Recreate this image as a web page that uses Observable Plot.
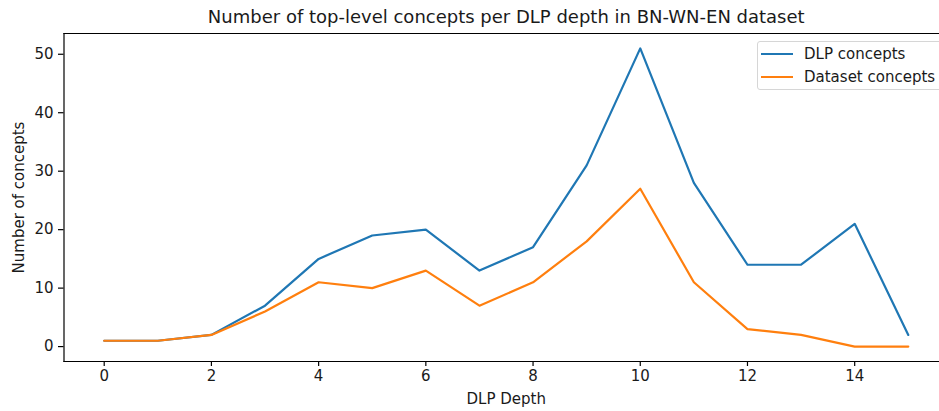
<!DOCTYPE html>
<html>
<head>
<meta charset="utf-8">
<script src="https://cdn.jsdelivr.net/npm/d3@7"></script>
<script src="https://cdn.jsdelivr.net/npm/@observablehq/plot@0.6"></script>
<style>
  html, body { margin: 0; padding: 0; background: #fff; }
  #wrap { position: relative; width: 939px; height: 411px; overflow: hidden; font-family: "DejaVu Sans", sans-serif; }
  #legend { position: absolute; left: 757px; top: 41px; width: 186px; height: 49px; box-sizing: border-box;
    border: 1px solid #d6d6d6; border-radius: 3px; background: rgba(255,255,255,0.8); font-size: 15px; color: #1a1a1a; }
  .item { position: absolute; left: 3px; height: 18px; line-height: 18px; white-space: nowrap; }
  .item span.sw { position: absolute; left: 0; top: 8px; width: 32px; height: 2px; }
  .item span.lb { position: absolute; left: 43px; top: 0; }
</style>
</head>
<body>
<div id="wrap"></div>
<script>
const depths = [0, 1, 2, 3, 4, 5, 6, 7, 8, 9, 10, 11, 12, 13, 14, 15];
const dlpConcepts = [1, 1, 2, 7, 15, 19, 20, 13, 17, 31, 51, 28, 14, 14, 21, 2];
const datasetConcepts = [1, 1, 2, 6, 11, 10, 13, 7, 11, 18, 27, 11, 3, 2, 0, 0];
const seriesNames = ["DLP concepts", "Dataset concepts"];
const seriesColors = ["#1f77b4", "#ff7f0e"];
const xTicks = [0, 2, 4, 6, 8, 10, 12, 14];
const yTicks = [0, 10, 20, 30, 40, 50];
const titleText = "Number of top-level concepts per DLP depth in BN-WN-EN dataset";
const xLabel = "DLP Depth";
const yLabel = "Number of concepts";

const rows = [];
depths.forEach((d, i) => {
  rows.push({depth: d, value: dlpConcepts[i], series: seriesNames[0]});
  rows.push({depth: d, value: datasetConcepts[i], series: seriesNames[1]});
});

const xMin = d3.min(depths), xMax = d3.max(depths);
const xPad = (xMax - xMin) * 0.05;
const allV = dlpConcepts.concat(datasetConcepts);
const yMin = d3.min(allV), yMax = d3.max(allV);
const yPad = (yMax - yMin) * 0.05;

const chart = Plot.plot({
  width: 939,
  height: 411,
  marginLeft: 63.5,
  marginRight: -9,
  marginTop: 33,
  marginBottom: 50,
  style: {fontFamily: "DejaVu Sans, sans-serif", fontSize: "15px", color: "#1a1a1a", background: "#fff", overflow: "visible"},
  x: {domain: [xMin - xPad, xMax + xPad]},
  y: {domain: [yMin - yPad, yMax + yPad]},
  color: {domain: seriesNames, range: seriesColors},
  marks: [
    Plot.line(rows, {x: "depth", y: "value", z: "series", stroke: "series", strokeWidth: 2.2}),
    Plot.frame({anchor: "left", stroke: "#000", strokeWidth: 1.2}),
    Plot.frame({anchor: "bottom", stroke: "#000", strokeWidth: 1.2}),
    Plot.frame({anchor: "top", stroke: "#000", strokeWidth: 1.2}),
    Plot.axisX({ticks: xTicks, tickSize: 5, tickPadding: 4, fontSize: 15, label: null, stroke: "#000", strokeWidth: 1.2}),
    Plot.axisY({ticks: yTicks, tickSize: 5.5, tickPadding: 5, fontSize: 15, label: null, stroke: "#000", strokeWidth: 1.2}),
    Plot.text([xLabel], {frameAnchor: "bottom", lineAnchor: "middle", dy: 37.5, fontSize: 15, fill: "#1a1a1a"}),
    Plot.text([yLabel], {frameAnchor: "left", textAnchor: "middle", lineAnchor: "middle", dx: -45, rotate: -90, fontSize: 15, fill: "#1a1a1a"}),
    Plot.text([titleText], {frameAnchor: "top", lineAnchor: "middle", dy: -16, fontSize: 18, fill: "#1a1a1a"})
  ]
});

const wrap = document.getElementById("wrap");
wrap.appendChild(chart);

const legend = document.createElement("div");
legend.id = "legend";
seriesNames.forEach((name, i) => {
  const it = document.createElement("div");
  it.className = "item";
  it.style.top = (3 + i * 22.5) + "px";
  it.innerHTML = `<span class="sw" style="background:${seriesColors[i]}"></span><span class="lb">${name}</span>`;
  legend.appendChild(it);
});
wrap.appendChild(legend);
</script>
</body>
</html>
